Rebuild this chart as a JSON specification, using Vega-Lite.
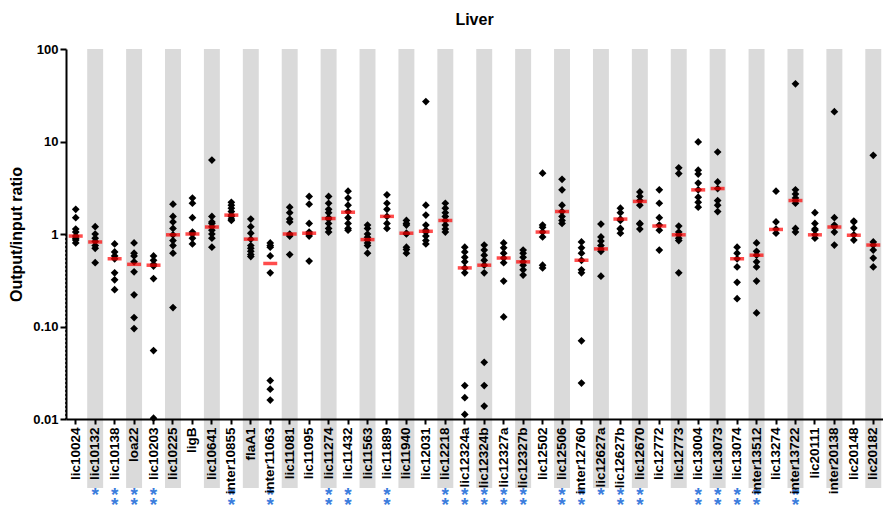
{
  "$schema": "https://vega.github.io/schema/vega-lite/v6.json",
  "width": 817,
  "height": 370,
  "autosize": "none",
  "padding": {"left": 66, "top": 49, "right": 0, "bottom": 88},
  "background": "white",
  "title": {"text": "Liver", "fontSize": 16, "fontWeight": "bold", "font": "Liberation Sans", "color": "black", "offset": 15, "anchor": "middle"},
  "config": {
    "view": {"stroke": null},
    "font": "Liberation Sans",
    "axis": {"domainColor": "black", "domainWidth": 2, "tickColor": "black", "tickWidth": 2, "labelColor": "black", "titleColor": "black", "labelFont": "Liberation Sans", "titleFont": "Liberation Sans", "grid": false}
  },
  "datasets": {
    "cats": [
      {"g": "lic10024", "sig": []}, {"g": "lic10132", "sig": ["*"]}, {"g": "lic10138", "sig": ["*", "*"]}, {"g": "loa22", "sig": ["*", "*"]},
      {"g": "lic10203", "sig": ["*", "*"]}, {"g": "lic10225", "sig": []}, {"g": "ligB", "sig": []}, {"g": "lic10641", "sig": []},
      {"g": "inter10855", "sig": ["*", "*"]}, {"g": "flaA1", "sig": []}, {"g": "inter11063", "sig": ["*", "*"]}, {"g": "lic11081", "sig": []},
      {"g": "lic11095", "sig": []}, {"g": "lic11274", "sig": ["*", "*"]}, {"g": "lic11432", "sig": ["*", "*"]}, {"g": "lic11563", "sig": []},
      {"g": "lic11889", "sig": ["*", "*"]}, {"g": "lic11940", "sig": []}, {"g": "lic12031", "sig": []}, {"g": "lic12218", "sig": ["*", "*"]},
      {"g": "lic12324a", "sig": ["*", "*"]}, {"g": "lic12324b", "sig": ["*", "*"]}, {"g": "lic12327a", "sig": ["*", "*"]}, {"g": "lic12327b", "sig": ["*", "*"]},
      {"g": "lic12502", "sig": []}, {"g": "lic12506", "sig": ["*", "*"]}, {"g": "inter12760", "sig": ["*", "*"]}, {"g": "lic12627a", "sig": ["*"]},
      {"g": "lic12627b", "sig": ["*", "*"]}, {"g": "lic12670", "sig": ["*", "*"]}, {"g": "lic12772", "sig": []}, {"g": "lic12773", "sig": []},
      {"g": "lic13004", "sig": ["*", "*"]}, {"g": "lic13073", "sig": ["*", "*"]}, {"g": "lic13074", "sig": ["*", "*"]}, {"g": "inter13512", "sig": ["*", "*"]},
      {"g": "lic13274", "sig": []}, {"g": "inter13722", "sig": ["*", "*"]}, {"g": "lic20111", "sig": []}, {"g": "inter20138", "sig": []},
      {"g": "lic20148", "sig": []}, {"g": "lic20182", "sig": []}
    ],
    "med": [
      {"g": "lic10024", "m": 0.95}, {"g": "lic10132", "m": 0.82}, {"g": "lic10138", "m": 0.54}, {"g": "loa22", "m": 0.47},
      {"g": "lic10203", "m": 0.46}, {"g": "lic10225", "m": 0.98}, {"g": "ligB", "m": 1.0}, {"g": "lic10641", "m": 1.19},
      {"g": "inter10855", "m": 1.6}, {"g": "flaA1", "m": 0.88}, {"g": "inter11063", "m": 0.48}, {"g": "lic11081", "m": 1.0},
      {"g": "lic11095", "m": 1.02}, {"g": "lic11274", "m": 1.47}, {"g": "lic11432", "m": 1.72}, {"g": "lic11563", "m": 0.87},
      {"g": "lic11889", "m": 1.55}, {"g": "lic11940", "m": 1.02}, {"g": "lic12031", "m": 1.07}, {"g": "lic12218", "m": 1.4},
      {"g": "lic12324a", "m": 0.43}, {"g": "lic12324b", "m": 0.46}, {"g": "lic12327a", "m": 0.55}, {"g": "lic12327b", "m": 0.5},
      {"g": "lic12502", "m": 1.05}, {"g": "lic12506", "m": 1.75}, {"g": "inter12760", "m": 0.52}, {"g": "lic12627a", "m": 0.69},
      {"g": "lic12627b", "m": 1.45}, {"g": "lic12670", "m": 2.25}, {"g": "lic12772", "m": 1.22}, {"g": "lic12773", "m": 0.98},
      {"g": "lic13004", "m": 3.0}, {"g": "lic13073", "m": 3.1}, {"g": "lic13074", "m": 0.54}, {"g": "inter13512", "m": 0.59},
      {"g": "lic13274", "m": 1.12}, {"g": "inter13722", "m": 2.3}, {"g": "lic20111", "m": 0.98}, {"g": "inter20138", "m": 1.19},
      {"g": "lic20148", "m": 0.97}, {"g": "lic20182", "m": 0.76}
    ],
    "pts": [
      {"g": "lic10024", "v": 1.85}, {"g": "lic10024", "v": 1.5}, {"g": "lic10024", "v": 1.13}, {"g": "lic10024", "v": 1.05}, {"g": "lic10024", "v": 0.95}, {"g": "lic10024", "v": 0.9}, {"g": "lic10024", "v": 0.86}, {"g": "lic10024", "v": 0.8},
      {"g": "lic10132", "v": 1.2}, {"g": "lic10132", "v": 1.0}, {"g": "lic10132", "v": 0.9}, {"g": "lic10132", "v": 0.83}, {"g": "lic10132", "v": 0.75}, {"g": "lic10132", "v": 0.7}, {"g": "lic10132", "v": 0.49},
      {"g": "lic10138", "v": 0.78}, {"g": "lic10138", "v": 0.64}, {"g": "lic10138", "v": 0.58}, {"g": "lic10138", "v": 0.54}, {"g": "lic10138", "v": 0.38}, {"g": "lic10138", "v": 0.32}, {"g": "lic10138", "v": 0.25},
      {"g": "loa22", "v": 0.8}, {"g": "loa22", "v": 0.62}, {"g": "loa22", "v": 0.58}, {"g": "loa22", "v": 0.5}, {"g": "loa22", "v": 0.39}, {"g": "loa22", "v": 0.22}, {"g": "loa22", "v": 0.125}, {"g": "loa22", "v": 0.095},
      {"g": "lic10203", "v": 0.58}, {"g": "lic10203", "v": 0.52}, {"g": "lic10203", "v": 0.47}, {"g": "lic10203", "v": 0.45}, {"g": "lic10203", "v": 0.33}, {"g": "lic10203", "v": 0.055}, {"g": "lic10203", "v": 0.0102},
      {"g": "lic10225", "v": 2.1}, {"g": "lic10225", "v": 1.55}, {"g": "lic10225", "v": 1.35}, {"g": "lic10225", "v": 1.15}, {"g": "lic10225", "v": 0.98}, {"g": "lic10225", "v": 0.85}, {"g": "lic10225", "v": 0.75}, {"g": "lic10225", "v": 0.62}, {"g": "lic10225", "v": 0.16},
      {"g": "ligB", "v": 2.45}, {"g": "ligB", "v": 2.15}, {"g": "ligB", "v": 1.5}, {"g": "ligB", "v": 1.05}, {"g": "ligB", "v": 1.0}, {"g": "ligB", "v": 0.9}, {"g": "ligB", "v": 0.78},
      {"g": "lic10641", "v": 6.3}, {"g": "lic10641", "v": 1.55}, {"g": "lic10641", "v": 1.35}, {"g": "lic10641", "v": 1.3}, {"g": "lic10641", "v": 1.2}, {"g": "lic10641", "v": 1.1}, {"g": "lic10641", "v": 1.0}, {"g": "lic10641", "v": 0.9}, {"g": "lic10641", "v": 0.72},
      {"g": "inter10855", "v": 2.2}, {"g": "inter10855", "v": 2.05}, {"g": "inter10855", "v": 1.9}, {"g": "inter10855", "v": 1.75}, {"g": "inter10855", "v": 1.6}, {"g": "inter10855", "v": 1.55}, {"g": "inter10855", "v": 1.45}, {"g": "inter10855", "v": 1.4},
      {"g": "flaA1", "v": 1.45}, {"g": "flaA1", "v": 1.2}, {"g": "flaA1", "v": 1.02}, {"g": "flaA1", "v": 0.88}, {"g": "flaA1", "v": 0.75}, {"g": "flaA1", "v": 0.7}, {"g": "flaA1", "v": 0.65}, {"g": "flaA1", "v": 0.6}, {"g": "flaA1", "v": 0.57},
      {"g": "inter11063", "v": 0.8}, {"g": "inter11063", "v": 0.75}, {"g": "inter11063", "v": 0.72}, {"g": "inter11063", "v": 0.58}, {"g": "inter11063", "v": 0.38}, {"g": "inter11063", "v": 0.026}, {"g": "inter11063", "v": 0.021}, {"g": "inter11063", "v": 0.016},
      {"g": "lic11081", "v": 1.95}, {"g": "lic11081", "v": 1.7}, {"g": "lic11081", "v": 1.45}, {"g": "lic11081", "v": 1.35}, {"g": "lic11081", "v": 1.0}, {"g": "lic11081", "v": 0.95}, {"g": "lic11081", "v": 0.6},
      {"g": "lic11095", "v": 2.55}, {"g": "lic11095", "v": 2.1}, {"g": "lic11095", "v": 1.3}, {"g": "lic11095", "v": 1.05}, {"g": "lic11095", "v": 1.0}, {"g": "lic11095", "v": 0.95}, {"g": "lic11095", "v": 0.51},
      {"g": "lic11274", "v": 2.55}, {"g": "lic11274", "v": 2.15}, {"g": "lic11274", "v": 1.85}, {"g": "lic11274", "v": 1.7}, {"g": "lic11274", "v": 1.5}, {"g": "lic11274", "v": 1.45}, {"g": "lic11274", "v": 1.3}, {"g": "lic11274", "v": 1.15}, {"g": "lic11274", "v": 1.05},
      {"g": "lic11432", "v": 2.9}, {"g": "lic11432", "v": 2.45}, {"g": "lic11432", "v": 2.05}, {"g": "lic11432", "v": 1.75}, {"g": "lic11432", "v": 1.5}, {"g": "lic11432", "v": 1.3}, {"g": "lic11432", "v": 1.15}, {"g": "lic11432", "v": 1.1},
      {"g": "lic11563", "v": 1.25}, {"g": "lic11563", "v": 1.15}, {"g": "lic11563", "v": 1.0}, {"g": "lic11563", "v": 0.92}, {"g": "lic11563", "v": 0.86}, {"g": "lic11563", "v": 0.8}, {"g": "lic11563", "v": 0.75}, {"g": "lic11563", "v": 0.62},
      {"g": "lic11889", "v": 2.65}, {"g": "lic11889", "v": 2.15}, {"g": "lic11889", "v": 1.85}, {"g": "lic11889", "v": 1.55}, {"g": "lic11889", "v": 1.3}, {"g": "lic11889", "v": 1.15},
      {"g": "lic11940", "v": 1.4}, {"g": "lic11940", "v": 1.3}, {"g": "lic11940", "v": 1.25}, {"g": "lic11940", "v": 1.02}, {"g": "lic11940", "v": 1.0}, {"g": "lic11940", "v": 0.72}, {"g": "lic11940", "v": 0.68}, {"g": "lic11940", "v": 0.62},
      {"g": "lic12031", "v": 27}, {"g": "lic12031", "v": 2.05}, {"g": "lic12031", "v": 1.6}, {"g": "lic12031", "v": 1.25}, {"g": "lic12031", "v": 1.1}, {"g": "lic12031", "v": 1.05}, {"g": "lic12031", "v": 0.95}, {"g": "lic12031", "v": 0.85}, {"g": "lic12031", "v": 0.78},
      {"g": "lic12218", "v": 2.15}, {"g": "lic12218", "v": 1.9}, {"g": "lic12218", "v": 1.7}, {"g": "lic12218", "v": 1.55}, {"g": "lic12218", "v": 1.4}, {"g": "lic12218", "v": 1.25}, {"g": "lic12218", "v": 1.13}, {"g": "lic12218", "v": 1.05},
      {"g": "lic12324a", "v": 0.72}, {"g": "lic12324a", "v": 0.64}, {"g": "lic12324a", "v": 0.56}, {"g": "lic12324a", "v": 0.5}, {"g": "lic12324a", "v": 0.43}, {"g": "lic12324a", "v": 0.38}, {"g": "lic12324a", "v": 0.023}, {"g": "lic12324a", "v": 0.017}, {"g": "lic12324a", "v": 0.0112},
      {"g": "lic12324b", "v": 0.76}, {"g": "lic12324b", "v": 0.67}, {"g": "lic12324b", "v": 0.59}, {"g": "lic12324b", "v": 0.52}, {"g": "lic12324b", "v": 0.46}, {"g": "lic12324b", "v": 0.38}, {"g": "lic12324b", "v": 0.041}, {"g": "lic12324b", "v": 0.023}, {"g": "lic12324b", "v": 0.0138},
      {"g": "lic12327a", "v": 0.8}, {"g": "lic12327a", "v": 0.71}, {"g": "lic12327a", "v": 0.62}, {"g": "lic12327a", "v": 0.55}, {"g": "lic12327a", "v": 0.49}, {"g": "lic12327a", "v": 0.31}, {"g": "lic12327a", "v": 0.127},
      {"g": "lic12327b", "v": 0.67}, {"g": "lic12327b", "v": 0.62}, {"g": "lic12327b", "v": 0.56}, {"g": "lic12327b", "v": 0.5}, {"g": "lic12327b", "v": 0.46}, {"g": "lic12327b", "v": 0.41}, {"g": "lic12327b", "v": 0.36},
      {"g": "lic12502", "v": 4.55}, {"g": "lic12502", "v": 1.25}, {"g": "lic12502", "v": 1.18}, {"g": "lic12502", "v": 1.05}, {"g": "lic12502", "v": 0.93}, {"g": "lic12502", "v": 0.46}, {"g": "lic12502", "v": 0.43},
      {"g": "lic12506", "v": 3.9}, {"g": "lic12506", "v": 3.0}, {"g": "lic12506", "v": 2.05}, {"g": "lic12506", "v": 1.75}, {"g": "lic12506", "v": 1.55}, {"g": "lic12506", "v": 1.4}, {"g": "lic12506", "v": 1.3},
      {"g": "inter12760", "v": 0.82}, {"g": "inter12760", "v": 0.71}, {"g": "inter12760", "v": 0.62}, {"g": "inter12760", "v": 0.52}, {"g": "inter12760", "v": 0.41}, {"g": "inter12760", "v": 0.38}, {"g": "inter12760", "v": 0.07}, {"g": "inter12760", "v": 0.0245},
      {"g": "lic12627a", "v": 1.28}, {"g": "lic12627a", "v": 0.93}, {"g": "lic12627a", "v": 0.84}, {"g": "lic12627a", "v": 0.75}, {"g": "lic12627a", "v": 0.69}, {"g": "lic12627a", "v": 0.65}, {"g": "lic12627a", "v": 0.35},
      {"g": "lic12627b", "v": 1.9}, {"g": "lic12627b", "v": 1.7}, {"g": "lic12627b", "v": 1.45}, {"g": "lic12627b", "v": 1.4}, {"g": "lic12627b", "v": 1.15}, {"g": "lic12627b", "v": 1.13}, {"g": "lic12627b", "v": 1.02},
      {"g": "lic12670", "v": 2.85}, {"g": "lic12670", "v": 2.55}, {"g": "lic12670", "v": 2.3}, {"g": "lic12670", "v": 2.05}, {"g": "lic12670", "v": 1.3}, {"g": "lic12670", "v": 1.28}, {"g": "lic12670", "v": 1.13},
      {"g": "lic12772", "v": 3.0}, {"g": "lic12772", "v": 2.15}, {"g": "lic12772", "v": 1.5}, {"g": "lic12772", "v": 1.25}, {"g": "lic12772", "v": 1.1}, {"g": "lic12772", "v": 0.67},
      {"g": "lic12773", "v": 5.2}, {"g": "lic12773", "v": 4.5}, {"g": "lic12773", "v": 1.22}, {"g": "lic12773", "v": 1.05}, {"g": "lic12773", "v": 0.98}, {"g": "lic12773", "v": 0.9}, {"g": "lic12773", "v": 0.85}, {"g": "lic12773", "v": 0.38},
      {"g": "lic13004", "v": 9.9}, {"g": "lic13004", "v": 4.9}, {"g": "lic13004", "v": 4.45}, {"g": "lic13004", "v": 3.55}, {"g": "lic13004", "v": 3.0}, {"g": "lic13004", "v": 2.5}, {"g": "lic13004", "v": 2.2}, {"g": "lic13004", "v": 1.95},
      {"g": "lic13073", "v": 7.7}, {"g": "lic13073", "v": 3.65}, {"g": "lic13073", "v": 3.1}, {"g": "lic13073", "v": 2.3}, {"g": "lic13073", "v": 2.05}, {"g": "lic13073", "v": 1.75},
      {"g": "lic13074", "v": 0.72}, {"g": "lic13074", "v": 0.62}, {"g": "lic13074", "v": 0.54}, {"g": "lic13074", "v": 0.44}, {"g": "lic13074", "v": 0.3}, {"g": "lic13074", "v": 0.2},
      {"g": "inter13512", "v": 0.8}, {"g": "inter13512", "v": 0.65}, {"g": "inter13512", "v": 0.59}, {"g": "inter13512", "v": 0.5}, {"g": "inter13512", "v": 0.44}, {"g": "inter13512", "v": 0.31}, {"g": "inter13512", "v": 0.14},
      {"g": "lic13274", "v": 2.9}, {"g": "lic13274", "v": 1.35}, {"g": "lic13274", "v": 1.13}, {"g": "lic13274", "v": 1.02},
      {"g": "inter13722", "v": 42}, {"g": "inter13722", "v": 3.0}, {"g": "inter13722", "v": 2.7}, {"g": "inter13722", "v": 2.45}, {"g": "inter13722", "v": 2.3}, {"g": "inter13722", "v": 2.15}, {"g": "inter13722", "v": 1.15}, {"g": "inter13722", "v": 1.05},
      {"g": "lic20111", "v": 1.7}, {"g": "lic20111", "v": 1.3}, {"g": "lic20111", "v": 1.13}, {"g": "lic20111", "v": 1.1}, {"g": "lic20111", "v": 0.98}, {"g": "lic20111", "v": 0.9},
      {"g": "inter20138", "v": 21}, {"g": "inter20138", "v": 1.5}, {"g": "inter20138", "v": 1.25}, {"g": "inter20138", "v": 1.2}, {"g": "inter20138", "v": 1.05}, {"g": "inter20138", "v": 0.76},
      {"g": "lic20148", "v": 1.38}, {"g": "lic20148", "v": 1.35}, {"g": "lic20148", "v": 1.16}, {"g": "lic20148", "v": 0.98}, {"g": "lic20148", "v": 0.86},
      {"g": "lic20182", "v": 7.1}, {"g": "lic20182", "v": 0.82}, {"g": "lic20182", "v": 0.76}, {"g": "lic20182", "v": 0.67}, {"g": "lic20182", "v": 0.55}, {"g": "lic20182", "v": 0.44}
    ]
  },
  "encoding": {
    "x": {
      "field": "g", "type": "nominal", "sort": null,
      "scale": {"paddingInner": 0, "paddingOuter": 0, "domain": ["lic10024","lic10132","lic10138","loa22","lic10203","lic10225","ligB","lic10641","inter10855","flaA1","inter11063","lic11081","lic11095","lic11274","lic11432","lic11563","lic11889","lic11940","lic12031","lic12218","lic12324a","lic12324b","lic12327a","lic12327b","lic12502","lic12506","inter12760","lic12627a","lic12627b","lic12670","lic12772","lic12773","lic13004","lic13073","lic13074","inter13512","lic13274","inter13722","lic20111","inter20138","lic20148","lic20182"]},
      "axis": {"title": null, "labelAngle": -90, "labelFontSize": 13.5, "labelFontWeight": "bold", "labelPadding": 3, "tickSize": 5, "zindex": 1, "labelBaseline": "middle"}
    }
  },
  "layer": [
    {
      "data": {"name": "cats"},
      "transform": [{"window": [{"op": "row_number", "as": "idx"}]}, {"filter": "datum.idx % 2 == 0"}],
      "mark": {"type": "bar", "color": "#dadada", "width": {"band": 0.82}, "y2Offset": 69},
      "encoding": {
        "y": {"datum": 100, "type": "quantitative"},
        "y2": {"datum": 0.01}
      }
    },
    {
      "data": {"values": [{"ref": 1}]},
      "mark": {"type": "rule", "color": "black", "strokeDash": [2, 2], "strokeWidth": 1.5},
      "encoding": {"y": {"field": "ref", "type": "quantitative"}}
    },
    {
      "data": {"name": "pts"},
      "mark": {"type": "point", "shape": "diamond", "filled": true, "color": "black", "opacity": 1, "size": 60},
      "encoding": {
        "y": {
          "field": "v", "type": "quantitative",
          "scale": {"type": "log", "domain": [0.01, 100], "nice": false},
          "axis": {"title": "Output/input ratio", "titleFontSize": 16, "titleFontWeight": "bold", "titlePadding": 8, "values": [0.01, 0.1, 1, 10, 100], "labelExpr": "datum.value == 0.1 ? '0.10' : datum.value == 0.01 ? '0.01' : format(datum.value, 'd')", "labelFontSize": 13, "labelFontWeight": "bold", "tickSize": 6, "labelPadding": 2}
        }
      }
    },
    {
      "data": {"name": "med"},
      "mark": {"type": "tick", "color": "#ff0000", "thickness": 3.5, "size": 14},
      "encoding": {"y": {"field": "m", "type": "quantitative"}}
    },
    {
      "data": {"name": "cats"},
      "mark": {"type": "text", "align": "center", "baseline": "top", "fontSize": 19, "fontWeight": "bold", "lineHeight": 10, "color": "#3b7ddd", "yOffset": 67},
      "encoding": {
        "y": {"datum": 0.01, "type": "quantitative"},
        "text": {"field": "sig"}
      }
    }
  ]
}
